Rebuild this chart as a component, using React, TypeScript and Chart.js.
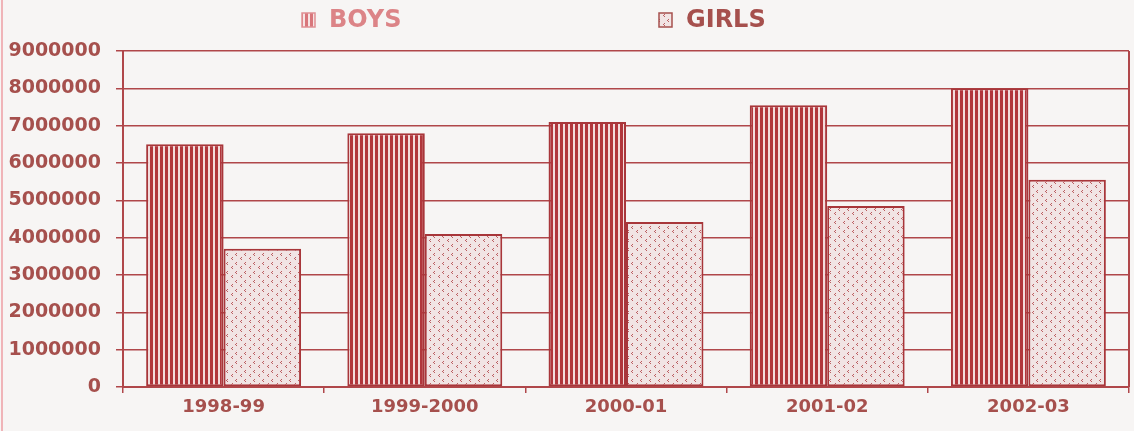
import React, { useEffect, useRef } from "react";
import { Chart, registerables } from "chart.js";

Chart.register(...registerables);

const categories = ["1998-99", "1999-2000", "2000-01", "2001-02", "2002-03"];
const boysValues = [6500000, 6800000, 7100000, 7550000, 8000000];
const girlsValues = [3700000, 4100000, 4420000, 4850000, 5550000];
const seriesLabels = ["BOYS", "GIRLS"];
const yMin = 0;
const yMax = 9000000;
const yStep = 1000000;

const INK = "#a6504d";
const LINE = "#b0474a";
const BAR_RED = "#b1363b";

function makeStripePattern(ctx: CanvasRenderingContext2D, dark: string, light: string) {
  const c = document.createElement("canvas");
  c.width = 5;
  c.height = 4;
  const g = c.getContext("2d")!;
  g.fillStyle = light;
  g.fillRect(0, 0, 5, 4);
  g.fillStyle = dark;
  g.fillRect(0, 0, 3, 4);
  return ctx.createPattern(c, "repeat")!;
}

function makeDotPattern(ctx: CanvasRenderingContext2D) {
  const c = document.createElement("canvas");
  c.width = 9;
  c.height = 9;
  const g = c.getContext("2d")!;
  g.fillStyle = "#f1e4e4";
  g.fillRect(0, 0, 9, 9);
  g.fillStyle = "#bb5e61";
  g.fillRect(2, 1, 1, 1);
  g.fillRect(1, 2, 1, 1);
  g.fillRect(2, 3, 1, 1);
  g.fillRect(7, 5, 1, 1);
  g.fillRect(6, 6, 1, 1);
  g.fillRect(7, 7, 1, 1);
  return ctx.createPattern(c, "repeat")!;
}

export default function App() {
  const canvasRef = useRef<HTMLCanvasElement | null>(null);

  useEffect(() => {
    const canvas = canvasRef.current;
    if (!canvas) return;
    const ctx = canvas.getContext("2d")!;
    const stripes = makeStripePattern(ctx, BAR_RED, "#f3dcdc");
    const dots = makeDotPattern(ctx);
    const legendStripes = makeStripePattern(ctx, "#d8767b", "#f6e4e4");

    const legendItems = [
      { x: 302, label: seriesLabels[0], fill: legendStripes, color: "#dc8487", border: "#e09094" },
      { x: 659, label: seriesLabels[1], fill: dots, color: INK, border: INK },
    ];

    const decorPlugin = {
      id: "decor",
      afterDraw(chart: any) {
        const c = chart.ctx as CanvasRenderingContext2D;
        const area = chart.chartArea;
        c.save();
        // right frame line
        c.strokeStyle = LINE;
        c.lineWidth = 2;
        c.beginPath();
        c.moveTo(area.right, area.top);
        c.lineTo(area.right, area.bottom);
        c.stroke();
        // legend
        c.font = "bold 24px 'DejaVu Sans', sans-serif";
        c.textBaseline = "middle";
        c.textAlign = "left";
        legendItems.forEach((it) => {
          c.fillStyle = it.fill;
          c.fillRect(it.x, 13, 13, 14);
          c.strokeStyle = it.border;
          c.lineWidth = 1.5;
          c.strokeRect(it.x, 13, 13, 14);
          c.fillStyle = it.color;
          c.fillText(it.label, it.x + 27, 21);
        });
        c.restore();
      },
    };

    const chart = new Chart(canvas, {
      type: "bar",
      data: {
        labels: categories,
        datasets: [
          {
            label: seriesLabels[0],
            data: boysValues,
            backgroundColor: stripes,
            borderColor: "#a8363a",
            borderWidth: 2,
            borderSkipped: false,
            categoryPercentage: 0.77,
            barPercentage: 1,
          },
          {
            label: seriesLabels[1],
            data: girlsValues,
            backgroundColor: dots,
            borderColor: "#a8363a",
            borderWidth: 2,
            borderSkipped: false,
            categoryPercentage: 0.77,
            barPercentage: 1,
          },
        ],
      },
      options: {
        animation: false,
        responsive: true,
        maintainAspectRatio: false,
        layout: { padding: { top: 51, right: 5, left: 0, bottom: 0 } },
        plugins: {
          legend: { display: false },
          tooltip: { enabled: false },
        },
        scales: {
          x: {
            grid: {
              display: true,
              drawOnChartArea: false,
              drawTicks: true,
              tickLength: 6,
              offset: true,
              color: LINE,
              lineWidth: 1.5,
            },
            border: { display: true, color: LINE, width: 2 },
            ticks: {
              color: INK,
              padding: 4,
              font: { family: "'DejaVu Sans', sans-serif", size: 18, weight: "bold" },
            },
            afterFit: (scale: any) => {
              scale.height = 44;
            },
          },
          y: {
            min: yMin,
            max: yMax,
            ticks: {
              stepSize: yStep,
              color: INK,
              padding: 15,
              font: { family: "'DejaVu Sans', sans-serif", size: 19, weight: "bold" },
              callback: (v: any) => String(v),
            },
            grid: {
              color: LINE,
              lineWidth: 1.5,
              tickLength: 7,
            },
            border: { display: true, color: LINE, width: 2 },
            afterFit: (scale: any) => {
              scale.width = 123;
            },
          },
        },
      },
      plugins: [decorPlugin],
    });

    return () => chart.destroy();
  }, []);

  return (
    <div
      style={{
        position: "absolute",
        left: 0,
        top: 0,
        width: 1134,
        height: 431,
        background: "#f7f5f4",
      }}
    >
      <div
        style={{
          position: "absolute",
          left: 1,
          top: 0,
          width: 2,
          height: 431,
          background: "#f0b4b8",
        }}
      />
      <canvas ref={canvasRef} />
    </div>
  );
}
